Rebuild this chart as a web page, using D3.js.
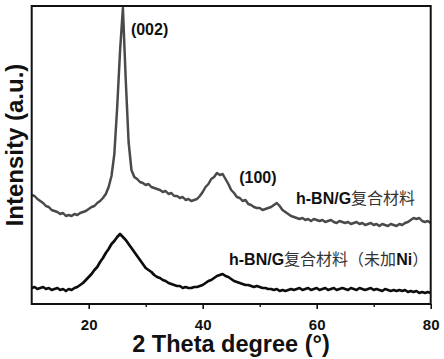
<!DOCTYPE html>
<html>
<head>
<meta charset="utf-8">
<script src="https://cdn.jsdelivr.net/npm/d3@7"></script>
<style>
  html, body { margin: 0; padding: 0; background: #fff; }
  svg { display: block; }
</style>
</head>
<body>
<svg id="chart" width="444" height="359"></svg>
<script>
// 2θ sampling grid (degrees)
const twoTheta = [
  10,10.5,11,11.5,12,12.5,13,13.5,14,14.5,
  15,15.5,16,16.5,17,17.5,18,18.5,19,19.5,
  20,20.5,21,21.5,22,22.5,23,23.5,24,24.5,
  25,25.5,26,26.5,27,27.5,28,28.5,29,29.5,
  30,30.5,31,31.5,32,32.5,33,33.5,34,34.5,
  35,35.5,36,36.5,37,37.5,38,38.5,39,39.5,
  40,40.5,41,41.5,42,42.5,43,43.5,44,44.5,
  45,45.5,46,46.5,47,47.5,48,48.5,49,49.5,
  50,50.5,51,51.5,52,52.5,53,53.5,54,54.5,
  55,55.5,56,56.5,57,57.5,58,58.5,59,59.5,
  60,60.5,61,61.5,62,62.5,63,63.5,64,64.5,
  65,65.5,66,66.5,67,67.5,68,68.5,69,69.5,
  70,70.5,71,71.5,72,72.5,73,73.5,74,74.5,
  75,75.5,76,76.5,77,77.5,78,78.5,79,79.5,
  80
];
// h-BN/G 复合材料 (gray, upper curve), intensity a.u.
const seriesComposite = [
  109,108,105,103,101,98,97,94,93,92,
  90,91,88,89,88,90,89,91,92,93,
  95,97,98,101,103,106,110,117,128,150,
  197,253,296,224,162,134,127,125,122,121,
  119,120,117,116,115,114,112,113,110,111,
  108,108,106,107,104,105,103,104,105,108,
  112,117,120,125,127,131,129,130,125,120,
  114,111,107,106,103,104,100,99,97,96,
  96,94,95,96,97,99,101,98,94,92,
  90,88,87,86,85,86,84,85,83,85,
  84,83,84,82,83,84,82,81,83,82,
  81,82,80,81,82,80,81,79,80,81,
  79,80,78,80,79,78,80,79,78,80,
  79,81,82,84,86,85,86,83,82,83,
  81
];
// h-BN/G 复合材料（未加Ni） (black, lower curve)
const seriesNoNi = [
  16,17,15,16,17,15,16,14,15,16,
  14,15,13,15,14,16,17,19,21,24,
  27,30,34,37,42,46,51,55,60,63,
  67,70,67,64,60,56,52,48,44,40,
  36,34,32,29,27,26,24,23,21,20,
  19,18,18,16,17,16,16,17,17,18,
  19,21,23,24,26,28,29,30,28,27,
  25,23,22,21,20,19,19,18,17,18,
  17,16,16,15,15,14,15,13,14,13,
  14,15,14,15,16,14,15,16,14,15,
  16,14,15,16,14,15,16,14,15,16,
  15,14,16,15,14,16,15,14,15,16,
  14,15,14,13,15,14,13,14,13,14,
  13,14,12,13,12,13,11,12,11,12,
  11
];
const majorTicks = [20, 40, 60, 80];
const minorTicks = [30, 50, 70];
const peakLabels = [
  { text: "(002)", x: 27.4, y: 269 },
  { text: "(100)", x: 46.4, y: 121 }
];

const svg = d3.select("#chart");
const L = 31.7, R = 430.7, T = 6, B = 304;
const x = d3.scaleLinear().domain([10, 80]).range([L, R]);
const y = d3.scaleLinear().domain([0, 298]).range([B, T]);

const latin = "'Liberation Sans', Arial, sans-serif";
const cjk = "'Noto Sans CJK SC', sans-serif";

svg.append("defs").append("clipPath").attr("id", "clip")
  .append("rect").attr("x", L).attr("y", T).attr("width", R - L).attr("height", B - T);

const line = d3.line().x((d, i) => x(twoTheta[i])).y(d => y(d));

const g = svg.append("g").attr("clip-path", "url(#clip)");
g.append("path").datum(seriesNoNi).attr("d", line)
  .attr("fill", "none").attr("stroke", "#0d0d0d").attr("stroke-width", 2.7)
  .attr("stroke-linejoin", "round");
g.append("path").datum(seriesComposite).attr("d", line)
  .attr("fill", "none").attr("stroke", "#4a4a4a").attr("stroke-width", 2.5)
  .attr("stroke-linejoin", "round");

// frame
svg.append("rect").attr("x", L).attr("y", T).attr("width", R - L).attr("height", B - T)
  .attr("fill", "none").attr("stroke", "#111").attr("stroke-width", 2);

// x axis
const ax = svg.append("g").attr("transform", `translate(0,${B})`)
  .call(d3.axisBottom(x).tickValues(majorTicks).tickSize(5).tickFormat(d3.format("d")));
ax.select(".domain").remove();
ax.selectAll("line").attr("stroke", "#111").attr("stroke-width", 1.6);
ax.selectAll("text").attr("y", 15).attr("dy", "0.71em")
  .attr("font-family", latin).attr("font-weight", "bold").attr("font-size", 15)
  .attr("fill", "#111");
const axm = svg.append("g").attr("transform", `translate(0,${B})`)
  .call(d3.axisBottom(x).tickValues(minorTicks).tickSize(3).tickFormat(""));
axm.select(".domain").remove();
axm.selectAll("line").attr("stroke", "#111").attr("stroke-width", 1.4);

// axis titles
svg.append("text").attr("x", 231).attr("y", 352).attr("text-anchor", "middle")
  .attr("font-family", latin).attr("font-weight", "bold").attr("font-size", 23.5)
  .attr("fill", "#111").text("2 Theta degree (°)");
svg.append("text").attr("transform", "translate(23,145) rotate(-90)")
  .attr("text-anchor", "middle")
  .attr("font-family", latin).attr("font-weight", "bold").attr("font-size", 24)
  .attr("fill", "#111").text("Intensity (a.u.)");

// peak labels
peakLabels.forEach(p => {
  svg.append("text").attr("x", x(p.x)).attr("y", y(p.y))
    .attr("font-family", latin).attr("font-weight", "bold").attr("font-size", 16)
    .attr("fill", "#111").text(p.text);
});

// series labels
const lab1 = svg.append("text").attr("x", 296).attr("y", 204).attr("font-size", 16).attr("fill", "#111");
lab1.append("tspan").attr("font-family", latin).attr("font-weight", "bold").text("h-BN/G");
lab1.append("tspan").attr("font-family", cjk).attr("font-weight", 400).attr("fill", "#333").text("复合材料");

const lab2 = svg.append("text").attr("x", 229).attr("y", 265).attr("font-size", 16).attr("fill", "#111");
lab2.append("tspan").attr("font-family", latin).attr("font-weight", "bold").text("h-BN/G");
lab2.append("tspan").attr("font-family", cjk).attr("font-weight", 400).attr("fill", "#333").text("复合材料（未加");
lab2.append("tspan").attr("font-family", latin).attr("font-weight", "bold").text("Ni");
lab2.append("tspan").attr("font-family", cjk).attr("font-weight", 400).attr("fill", "#333").text("）");
</script>
</body>
</html>
